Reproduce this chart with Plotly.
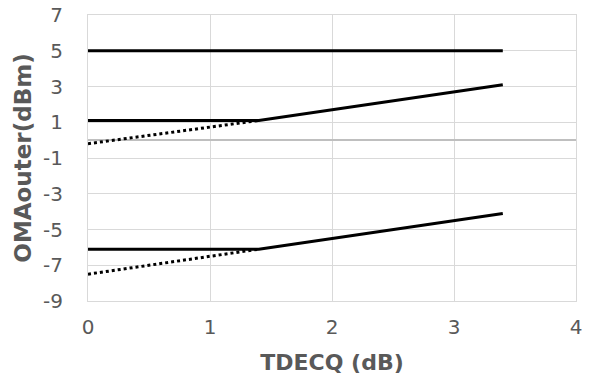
import plotly.graph_objects as go

# Data
x_top = [0, 3.4]
y_top = [5, 5]

x_mid = [0, 1.4, 3.4]
y_mid = [1.1, 1.1, 3.1]
x_mid_dot = [0, 1.4]
y_mid_dot = [-0.2, 1.1]

x_low = [0, 1.4, 3.4]
y_low = [-6.1, -6.1, -4.1]
x_low_dot = [0, 1.4]
y_low_dot = [-7.5, -6.1]

x_ticks = [0, 1, 2, 3, 4]
y_ticks = [7, 5, 3, 1, -1, -3, -5, -7, -9]
y_tick_text = ["7", "5", "3", "1", "-1", "-3", "-5", "-7", "-9"]

FONT = "DejaVu Sans, sans-serif"
GRID = "#d9d9d9"
TXT = "#595959"

fig = go.Figure()
solid = dict(color="black", width=3)
dotted = dict(color="black", width=3, dash="dot")
fig.add_trace(go.Scatter(x=x_mid_dot, y=y_mid_dot, mode="lines", line=dotted))
fig.add_trace(go.Scatter(x=x_low_dot, y=y_low_dot, mode="lines", line=dotted))
fig.add_trace(go.Scatter(x=x_top, y=y_top, mode="lines", line=solid))
fig.add_trace(go.Scatter(x=x_mid, y=y_mid, mode="lines", line=solid))
fig.add_trace(go.Scatter(x=x_low, y=y_low, mode="lines", line=solid))

fig.update_layout(
    width=589, height=375,
    autosize=False,
    margin=dict(l=88, r=13, t=15, b=74, autoexpand=False),
    paper_bgcolor="white", plot_bgcolor="white",
    showlegend=False,
    font=dict(family=FONT, color=TXT, size=20),
    xaxis=dict(
        range=[0, 4], tickvals=x_ticks, showgrid=True, gridcolor=GRID, gridwidth=1,
        zeroline=False, showline=True, linecolor=GRID, linewidth=1, mirror=True,
        ticks="", ticklabelstandoff=8, automargin=False, ticklabeloverflow="allow",
        tickfont=dict(family=FONT, size=20, color=TXT),
        title=dict(text="<b>TDECQ (dB)</b>", font=dict(family=FONT, size=22, color=TXT), standoff=16),
    ),
    yaxis=dict(
        range=[-9, 7], tickvals=y_ticks, ticktext=y_tick_text,
        showgrid=True, gridcolor=GRID, gridwidth=1,
        zeroline=True, zerolinecolor="#bfbfbf", zerolinewidth=1.5,
        showline=True, linecolor=GRID, linewidth=1, mirror=True,
        ticks="", ticklabelstandoff=20, automargin=False, ticklabeloverflow="allow",
        tickfont=dict(family=FONT, size=20, color=TXT),
        title=dict(text="<b>OMAouter(dBm)</b>", font=dict(family=FONT, size=23, color=TXT), standoff=4),
    ),
)

fig.write_html("out.html", config={"displayModeBar": False},
               post_script="document.body.style.margin='0px';")
